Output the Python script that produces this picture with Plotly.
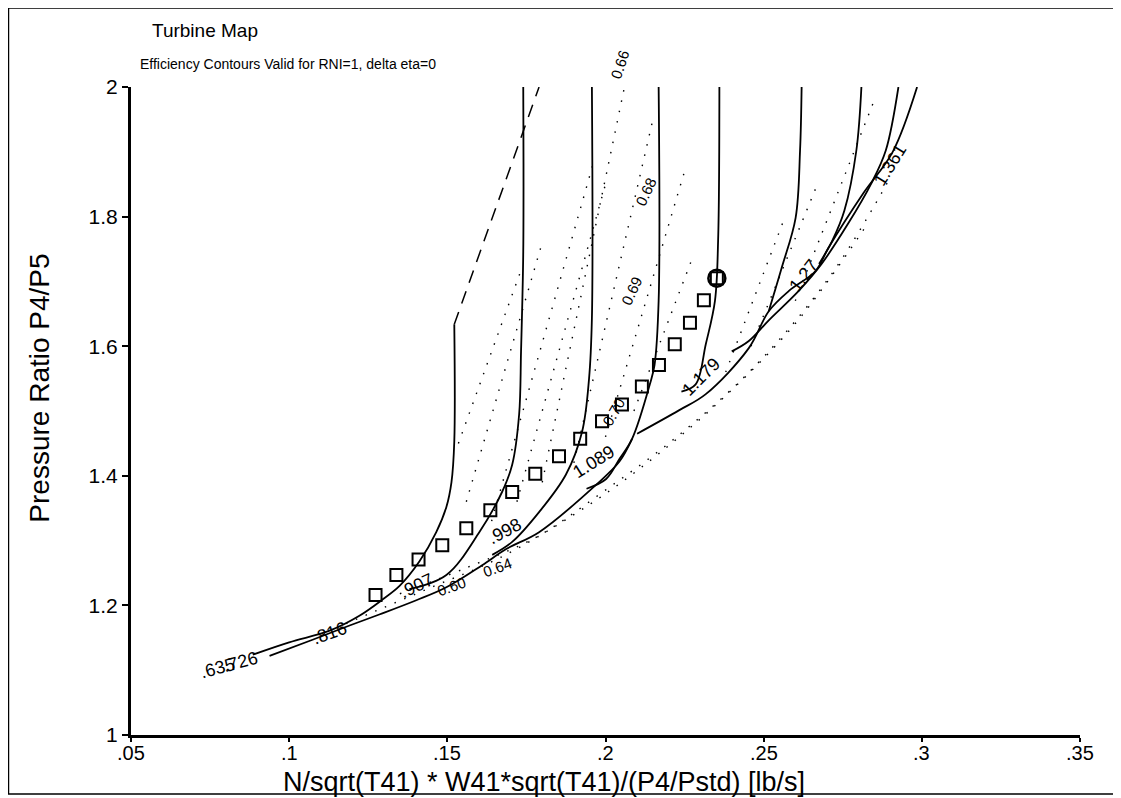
import plotly.graph_objects as go

# operating points (squares), the last one is also circled
op_x = [0.1273, 0.1339, 0.1409, 0.1484, 0.1560, 0.1636, 0.1705, 0.1778, 0.1853,
        0.1920, 0.1989, 0.2052, 0.2115, 0.2169, 0.2219, 0.2267, 0.2311, 0.2352]
op_y = [1.216, 1.247, 1.271, 1.293, 1.319, 1.347, 1.375, 1.403, 1.430,
        1.457, 1.484, 1.510, 1.538, 1.571, 1.603, 1.636, 1.671, 1.705]

# speed lines
spd_816_x = [0.0885, 0.1000, 0.1128, 0.1222, 0.1295, 0.1349, 0.1412, 0.1465, 0.1497, 0.1513, 0.1522, 0.1522]
spd_816_y = [1.124, 1.143, 1.161, 1.184, 1.209, 1.230, 1.268, 1.313, 1.352, 1.390, 1.453, 1.634]
spd_726_x = [0.0938, 0.1074, 0.1191, 0.1285, 0.1402, 0.1497, 0.1610, 0.1686, 0.1790, 0.1970, 0.2044, 0.2084]
spd_726_y = [1.122, 1.147, 1.169, 1.186, 1.208, 1.228, 1.262, 1.287, 1.313, 1.386, 1.422, 1.457]
spd_907_x = [0.1380, 0.1497, 0.1601, 0.1673, 0.1705, 0.1727, 0.1733, 0.1740, 0.1740]
spd_907_y = [1.225, 1.247, 1.313, 1.375, 1.417, 1.495, 1.592, 1.746, 2.0]
spd_998_x = [0.1642, 0.1705, 0.1790, 0.1875, 0.1926, 0.1948, 0.1957, 0.1957]
spd_998_y = [1.278, 1.298, 1.344, 1.402, 1.468, 1.550, 1.643, 2.0]
spd_1089_x = [0.1940, 0.2002, 0.2044, 0.2084, 0.2140, 0.2155, 0.2168, 0.2168]
spd_1089_y = [1.380, 1.395, 1.426, 1.457, 1.541, 1.571, 1.670, 2.0]
spd_1179_x = [0.2240, 0.2285, 0.2317, 0.2346, 0.2356, 0.2360]
spd_1179_y = [1.530, 1.541, 1.603, 1.670, 1.763, 2.0]
spd_1270_x = [0.2516, 0.2557, 0.2601, 0.2615, 0.2620]
spd_1270_y = [1.654, 1.721, 1.798, 1.902, 2.0]
spd_1361_x = [0.2675, 0.2717, 0.2755, 0.2793, 0.2809]
spd_1361_y = [1.727, 1.763, 1.809, 1.902, 2.0]
env_a_x = [0.2399, 0.2453, 0.2516, 0.2610, 0.2683, 0.2768, 0.2840, 0.2886, 0.2926]
env_a_y = [1.592, 1.608, 1.640, 1.685, 1.727, 1.790, 1.851, 1.902, 2.0]
env_b_x = [0.2100, 0.2232, 0.2317, 0.2453, 0.2516, 0.2579, 0.2664, 0.2705, 0.2815, 0.2908, 0.2985]
env_b_y = [1.465, 1.501, 1.526, 1.597, 1.654, 1.685, 1.716, 1.752, 1.836, 1.900, 2.0]

# surge-side limit (dashed)
limit_x = [0.1522, 0.1790]
limit_y = [1.634, 2.0]

# efficiency contours (dotted)
eff_lines = {
    "e1": ([0.1535, 0.1735], [1.45, 1.72]),
    "e2": ([0.1560, 0.1800], [1.36, 1.76]),
    "e3": ([0.1640, 0.1960], [1.33, 1.88]),
    "e4": ([0.1720, 0.2000], [1.36, 1.85]),
    "e5": ([0.1800, 0.2060], [1.39, 2.0]),
    "e6": ([0.1900, 0.2150], [1.42, 1.95]),
    "e7": ([0.2000, 0.2250], [1.46, 1.87]),
    "e8": ([0.2090, 0.2270], [1.50, 1.73]),
    "e9": ([0.2380, 0.2560], [1.56, 1.79]),
    "e10": ([0.2460, 0.2670], [1.60, 1.85]),
    "e11": ([0.2600, 0.2850], [1.67, 1.98]),
    "e60": ([0.1180, 0.1450, 0.1660, 0.1900, 0.2100, 0.2350, 0.2600, 0.2830],
            [1.172, 1.228, 1.272, 1.340, 1.408, 1.510, 1.635, 1.790]),
    "e64": ([0.1350, 0.1560, 0.1780, 0.2000, 0.2230, 0.2470, 0.2710, 0.2900],
            [1.218, 1.258, 1.305, 1.378, 1.462, 1.568, 1.708, 1.860]),
}

speed_labels = [".635", ".726", ".816", ".907", ".998", "1.089", "1.179", "1.27", "1.361"]
speed_lab_x = [0.0775, 0.0845, 0.1129, 0.1401, 0.1682, 0.1961, 0.2302, 0.2625, 0.2900]
speed_lab_y = [1.104, 1.112, 1.158, 1.230, 1.315, 1.422, 1.552, 1.709, 1.879]
speed_lab_ang = [-15, -15, -20, -25, -28, -32, -45, -52, -58]

eff_labels = ["0.60", "0.64", "0.66", "0.68", "0.69", "0.70"]
eff_lab_x = [0.1512, 0.1657, 0.2045, 0.2128, 0.2081, 0.2024]
eff_lab_y = [1.229, 1.258, 2.035, 1.839, 1.685, 1.498]
eff_lab_ang = [-20, -20, -72, -65, -65, -60]

x_tick_vals = [0.05, 0.1, 0.15, 0.2, 0.25, 0.3, 0.35]
x_tick_text = [".05", ".1", ".15", ".2", ".25", ".3", ".35"]
y_tick_vals = [1, 1.2, 1.4, 1.6, 1.8, 2]
y_tick_text = ["1", "1.2", "1.4", "1.6", "1.8", "2"]
y_range = [1, 2]

fig = go.Figure()

line_style = dict(color="black", width=1.8)
for xs, ys in [(spd_816_x, spd_816_y), (spd_726_x, spd_726_y), (spd_907_x, spd_907_y),
               (spd_998_x, spd_998_y), (spd_1089_x, spd_1089_y), (spd_1179_x, spd_1179_y),
               (spd_1270_x, spd_1270_y), (spd_1361_x, spd_1361_y), (env_a_x, env_a_y),
               (env_b_x, env_b_y)]:
    fig.add_trace(go.Scatter(x=xs, y=ys, mode="lines", line=dict(line_style, shape="spline"),
                             hoverinfo="skip", cliponaxis=False))

for xs, ys in eff_lines.values():
    fig.add_trace(go.Scatter(x=xs, y=ys, mode="lines",
                             line=dict(color="black", width=1.4, dash="1.5px,9px", shape="spline"),
                             hoverinfo="skip"))

fig.add_trace(go.Scatter(x=limit_x, y=limit_y, mode="lines",
                         line=dict(color="black", width=1.5, dash="13px,9px")))

fig.add_trace(go.Scatter(x=op_x, y=op_y, mode="markers",
                         marker=dict(symbol="square-open", size=12, color="black",
                                     line=dict(width=2))))
fig.add_trace(go.Scatter(x=op_x[-1:], y=op_y[-1:], mode="markers",
                         marker=dict(symbol="circle-open", size=17, color="black",
                                     line=dict(width=2.5))))

for t, x, y, a in zip(speed_labels, speed_lab_x, speed_lab_y, speed_lab_ang):
    fig.add_annotation(x=x, y=y, text=t, showarrow=False, textangle=a,
                       font=dict(size=18, color="black"))

# labels above the top of the axis would be dropped by plotly, so put those on paper y
for t, x, y, a in zip(eff_labels, eff_lab_x, eff_lab_y, eff_lab_ang):
    yp = (y - y_range[0]) / (y_range[1] - y_range[0])
    fig.add_annotation(x=x, y=yp, yref="paper", xanchor="center", yanchor="middle",
                       text=t, showarrow=False, textangle=a,
                       font=dict(size=15, color="black"))

# x tick labels sit tight under the axis, as in the scan
for v, t in zip(x_tick_vals, x_tick_text):
    fig.add_annotation(x=v, y=-0.0085, yref="paper", yanchor="top", text=t,
                       showarrow=False, font=dict(size=20), borderpad=0)

# page is drawn 8px in from the window corner, so the figure is 8px smaller each way
font = "Liberation Sans, Arial, sans-serif"
fig.add_annotation(x=0.020, y=1.0866, xref="paper", yref="paper", xanchor="left",
                   yanchor="middle", text="Turbine Map", showarrow=False, font=dict(size=19))
fig.add_annotation(x=0.0074, y=1.036, xref="paper", yref="paper", xanchor="left",
                   yanchor="middle", text="Efficiency Contours Valid for RNI=1, delta eta=0",
                   showarrow=False, font=dict(size=14))
fig.add_annotation(x=0.435, y=-0.0725, xref="paper", yref="paper", yanchor="middle",
                   text="N/sqrt(T41) * W41*sqrt(T41)/(P4/Pstd) [lb/s]", showarrow=False,
                   font=dict(size=27), borderpad=0)
fig.add_annotation(x=-0.0959, y=0.536, xref="paper", yref="paper", textangle=-90,
                   xanchor="center", yanchor="middle",
                   text="Pressure Ratio P4/P5", showarrow=False, font=dict(size=28))

# outer frame round the whole page
fig.add_shape(type="rect", xref="paper", yref="paper", x0=-0.1291, x1=1.0420, y0=-0.0912, y1=1.1221,
              line=dict(color="black", width=1.5))

fig.update_xaxes(range=[0.05, 0.35], tickvals=x_tick_vals, showticklabels=False,
                 showline=True, linecolor="black", linewidth=3, ticks="outside",
                 ticklen=4, tickwidth=2, tickcolor="black", showgrid=False, zeroline=False)
fig.update_yaxes(range=y_range, tickvals=y_tick_vals, ticktext=y_tick_text,
                 showline=True, linecolor="black", linewidth=3, ticks="outside",
                 ticklen=6, tickwidth=2, tickcolor="black", showgrid=False, zeroline=False,
                 tickfont=dict(size=21), ticklabelstandoff=0)
fig.update_layout(
    width=1113, height=790,
    margin=dict(l=123, r=41, t=79, b=63, autoexpand=False),
    plot_bgcolor="white", paper_bgcolor="white",
    showlegend=False,
    font=dict(family=font, color="black"),
)
fig.write_html("out.html")
